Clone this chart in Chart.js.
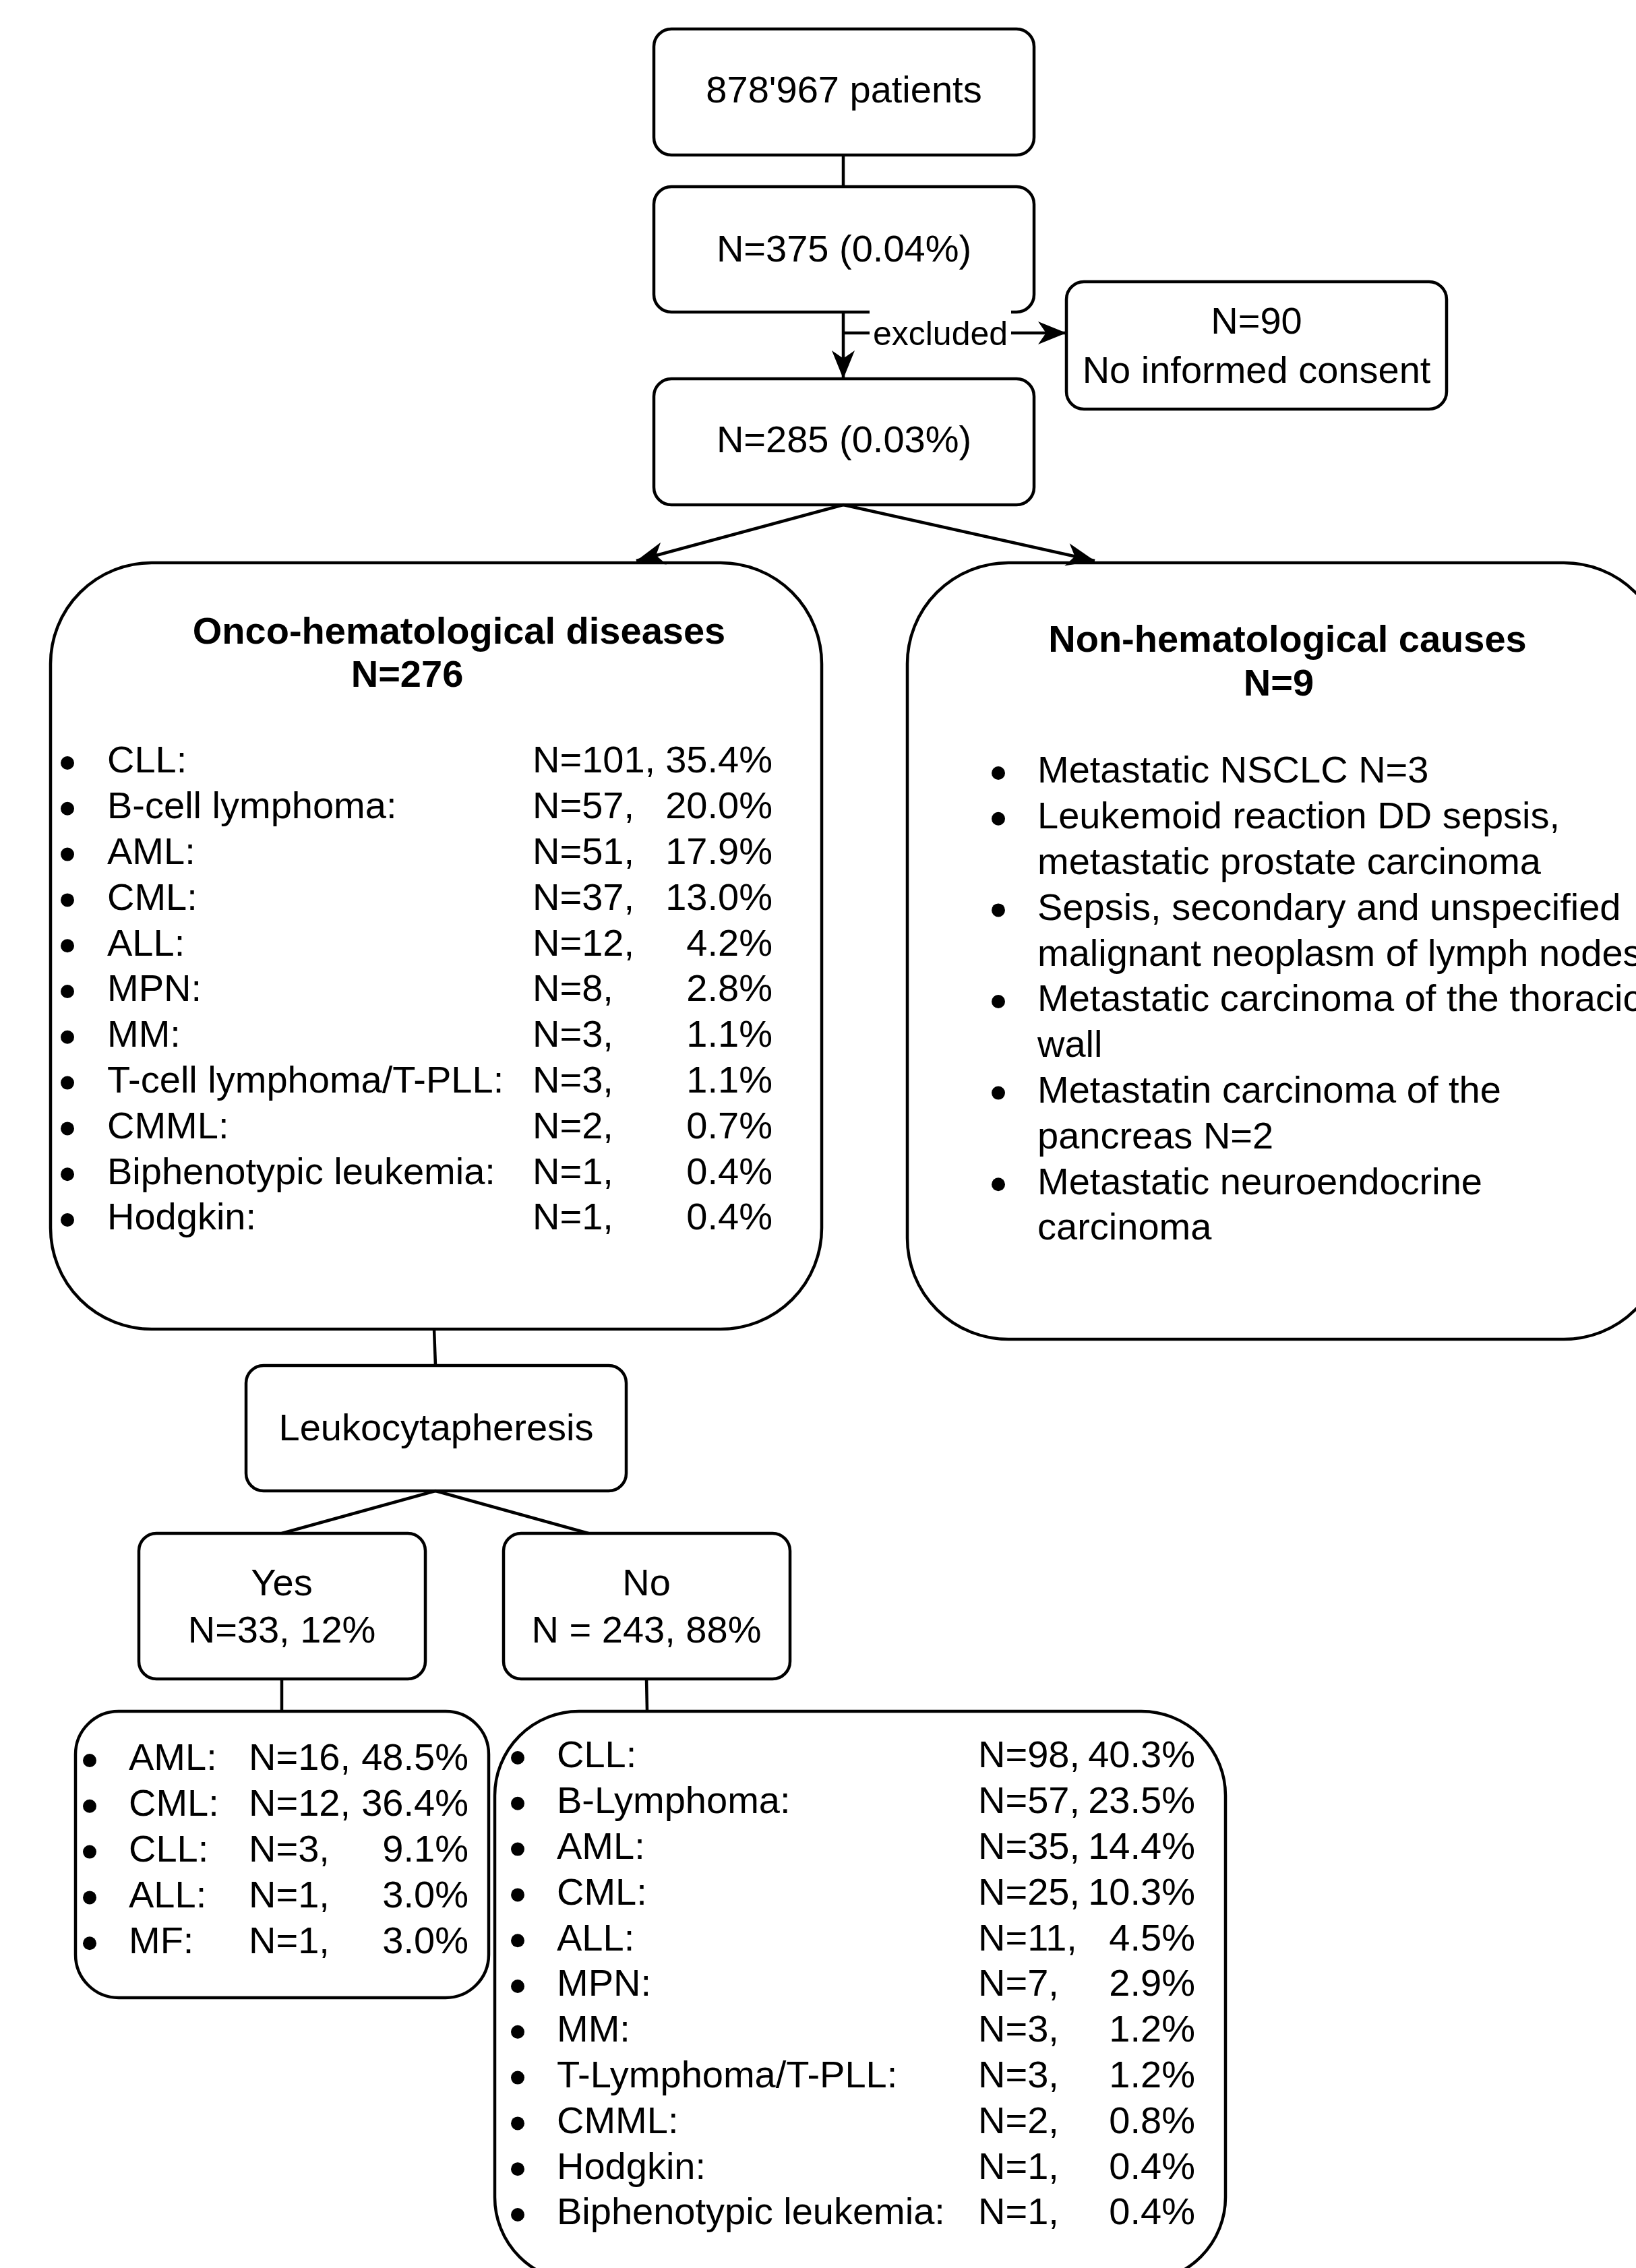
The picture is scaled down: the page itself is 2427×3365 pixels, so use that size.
<!DOCTYPE html>
<html>
<head>
<meta charset="utf-8">
<script src="https://cdn.jsdelivr.net/npm/chart.js@4.4.0/dist/chart.umd.min.js"></script>
<style>
html, body { margin: 0; padding: 0; background: #fff; }
canvas { display: block; }
</style>
</head>
<body>
<canvas id="flow" width="2427" height="3365"></canvas>
<script>
const stepLabels = ["878'967 patients", "N=375 (0.04%)", "N=285 (0.03%)"];
const excludedLabels = ["N=90", "No informed consent"];
const groupTitles = ["Onco-hematological diseases", "Non-hematological causes"];
const groupN = [276, 9];

const oncoDiseases = ["CLL:", "B-cell lymphoma:", "AML:", "CML:", "ALL:", "MPN:", "MM:",
	"T-cell lymphoma/T-PLL:", "CMML:", "Biphenotypic leukemia:", "Hodgkin:"];
const oncoN = [101, 57, 51, 37, 12, 8, 3, 3, 2, 1, 1];
const oncoPct = [35.4, 20.0, 17.9, 13.0, 4.2, 2.8, 1.1, 1.1, 0.7, 0.4, 0.4];

const nonHemItems = [
	["Metastatic NSCLC N=3"],
	["Leukemoid reaction DD sepsis,", "metastatic prostate carcinoma"],
	["Sepsis, secondary and unspecified", "malignant neoplasm of lymph nodes"],
	["Metastatic carcinoma of the thoracic", "wall"],
	["Metastatin carcinoma of the", "pancreas N=2"],
	["Metastatic neuroendocrine", "carcinoma"]
];

const apheresisTitle = "Leukocytapheresis";
const apheresisLabels = ["Yes", "No"];
const apheresisN = [33, 243];
const apheresisPct = [12, 88];

const yesDiseases = ["AML:", "CML:", "CLL:", "ALL:", "MF:"];
const yesN = [16, 12, 3, 1, 1];
const yesPct = [48.5, 36.4, 9.1, 3.0, 3.0];

const noDiseases = ["CLL:", "B-Lymphoma:", "AML:", "CML:", "ALL:", "MPN:", "MM:",
	"T-Lymphoma/T-PLL:", "CMML:", "Hodgkin:", "Biphenotypic leukemia:"];
const noN = [98, 57, 35, 25, 11, 7, 3, 3, 2, 1, 1];
const noPct = [40.3, 23.5, 14.4, 10.3, 4.5, 2.9, 1.2, 1.2, 0.8, 0.4, 0.4];

// ---- layout (in scale units = picture pixels) ----
const W = 2427, H = 3365;
const FONT = "'Liberation Sans', Arial, sans-serif";
const LINE = 67.8;
const BULLET_DROP = 5;
const TEXT_DROP = 4;
const boxes = {
	patients: [970, 43, 1534, 230, 26],
	screened: [970, 277, 1534, 463, 26],
	included: [970, 562, 1534, 749, 26],
	excluded: [1582, 418, 2146, 607, 26],
	onco: [75, 835, 1219, 1972, 150],
	nonHem: [1346, 835, 2470, 1987, 150],
	leuko: [365, 2026, 929, 2212, 26],
	yes: [206, 2275, 631, 2491, 26],
	no: [747, 2275, 1172, 2491, 26],
	yesList: [112, 2539, 725, 2964, 64],
	noList: [734, 2539, 1818, 3385, 125]
};
const lists = [
	{ names: oncoDiseases, n: oncoN, pct: oncoPct, bx: 100, tx: 159, nx: 790, px: 1146, y0: 1127 },
	{ names: yesDiseases, n: yesN, pct: yesPct, bx: 133, tx: 191, nx: 369, px: 695, y0: 2607 },
	{ names: noDiseases, n: noN, pct: noPct, bx: 768, tx: 826, nx: 1451, px: 1773, y0: 2603 }
];
const nonHemList = { bx: 1481, tx: 1539, y0: 1142 };

// connectors: [x1, y1, x2, y2, arrow]
const connectors = [
	[1251, 230, 1251, 277, false],
	[1251, 463, 1251, 562, true],
	[1251, 494, 1582, 494, true],
	[1251, 749, 944, 832, true],
	[1251, 749, 1624, 832, true],
	[644, 1972, 646, 2026, false],
	[646, 2212, 418, 2275, false],
	[646, 2212, 873, 2275, false],
	[418, 2491, 418, 2539, false],
	[959, 2491, 960, 2539, false]
];

// bullet points for every list row
const bulletPoints = [];
lists.forEach((l) => {
	l.names.forEach((name, i) => bulletPoints.push({ x: l.bx, y: l.y0 + i * LINE + BULLET_DROP }));
});
let nhRow = 0;
nonHemItems.forEach((item) => {
	bulletPoints.push({ x: nonHemList.bx, y: nonHemList.y0 + nhRow * LINE + BULLET_DROP });
	nhRow += item.length;
});

const lineSets = connectors.map((c) => ({
	type: "line",
	data: [{ x: c[0], y: c[1] }, { x: c[2], y: c[3] }],
	borderColor: "#000",
	borderWidth: 4.5,
	pointRadius: 0,
	showLine: true,
	fill: false
}));

function roundRect(ctx, x1, y1, x2, y2, r) {
	ctx.beginPath();
	ctx.moveTo(x1 + r, y1);
	ctx.lineTo(x2 - r, y1);
	ctx.arcTo(x2, y1, x2, y1 + r, r);
	ctx.lineTo(x2, y2 - r);
	ctx.arcTo(x2, y2, x2 - r, y2, r);
	ctx.lineTo(x1 + r, y2);
	ctx.arcTo(x1, y2, x1, y2 - r, r);
	ctx.lineTo(x1, y1 + r);
	ctx.arcTo(x1, y1, x1 + r, y1, r);
	ctx.closePath();
}

function arrowHead(ctx, x1, y1, x2, y2) {
	const a = Math.atan2(y2 - y1, x2 - x1);
	const len = 42, w = 17;
	const cos = Math.cos(a), sin = Math.sin(a);
	const bx = x2 - len * cos, by = y2 - len * sin;
	ctx.beginPath();
	ctx.moveTo(x2, y2);
	ctx.lineTo(bx - w * sin, by + w * cos);
	ctx.lineTo(x2 - len * 0.72 * cos, y2 - len * 0.72 * sin);
	ctx.lineTo(bx + w * sin, by - w * cos);
	ctx.closePath();
	ctx.fill();
}

const flowPlugin = {
	id: "flow",
	beforeDraw(chart) {
		const ctx = chart.ctx;
		ctx.save();
		ctx.fillStyle = "#fff";
		ctx.fillRect(0, 0, chart.width, chart.height);
		ctx.restore();
	},
	afterDatasetsDraw(chart) {
		const ctx = chart.ctx;
		const sx = chart.scales.x, sy = chart.scales.y;
		const px = (v) => sx.getPixelForValue(v);
		const py = (v) => sy.getPixelForValue(v);
		ctx.save();
		ctx.strokeStyle = "#000";
		ctx.fillStyle = "#000";
		ctx.lineWidth = 4.5;

		// arrow heads
		connectors.forEach((c) => {
			if (c[4]) arrowHead(ctx, px(c[0]), py(c[1]), px(c[2]), py(c[3]));
		});

		// boxes
		Object.values(boxes).forEach((b) => {
			roundRect(ctx, px(b[0]), py(b[1]), px(b[2]), py(b[3]), b[4]);
			ctx.stroke();
		});

		ctx.textBaseline = "middle";
		const text = (s, x, y, align, bold, size) => {
			ctx.font = (bold ? "bold " : "") + (size || 56) + "px " + FONT;
			ctx.textAlign = align || "center";
			ctx.fillText(s, px(x), py(y + TEXT_DROP));
		};

		// edge label "excluded" sits on a white patch
		ctx.fillStyle = "#fff";
		ctx.fillRect(px(1290), py(458), px(1500) - px(1290), py(530) - py(458));
		ctx.fillStyle = "#000";
		text("excluded", 1395, 494, "center", false, 50);

		// step boxes
		text(stepLabels[0], 1252, 133);
		text(stepLabels[1], 1252, 369);
		text(stepLabels[2], 1252, 652);
		text(excludedLabels[0], 1864, 476);
		text(excludedLabels[1], 1864, 549);

		// group headers
		text(groupTitles[0], 681, 936, "center", true);
		text("N=" + groupN[0], 604, 1000, "center", true);
		text(groupTitles[1], 1910, 948, "center", true);
		text("N=" + groupN[1], 1897, 1013, "center", true);

		// disease lists
		lists.forEach((l) => {
			l.names.forEach((name, i) => {
				const y = l.y0 + i * LINE;
				text(name, l.tx, y, "left");
				text("N=" + l.n[i] + ",", l.nx, y, "left");
				text(l.pct[i].toFixed(1) + "%", l.px, y, "right");
			});
		});

		let row = 0;
		nonHemItems.forEach((item) => {
			item.forEach((line) => {
				text(line, nonHemList.tx, nonHemList.y0 + row * LINE, "left");
				row++;
			});
		});

		// leukocytapheresis split
		text(apheresisTitle, 647, 2118);
		text(apheresisLabels[0], 418, 2348);
		text("N=" + apheresisN[0] + ", " + apheresisPct[0] + "%", 418, 2418);
		text(apheresisLabels[1], 959, 2348);
		text("N = " + apheresisN[1] + ", " + apheresisPct[1] + "%", 959, 2418);

		ctx.restore();
	}
};

new Chart(document.getElementById("flow"), {
	type: "scatter",
	data: {
		datasets: [
			...lineSets,
			{
				data: bulletPoints,
				pointStyle: "circle",
				pointRadius: 10,
				pointBackgroundColor: "#000",
				pointBorderColor: "#000",
				pointBorderWidth: 0
			}
		]
	},
	options: {
		responsive: false,
		devicePixelRatio: 1,
		animation: false,
		events: [],
		layout: { padding: 0, autoPadding: false },
		plugins: { legend: { display: false }, tooltip: { enabled: false } },
		scales: {
			x: { type: "linear", min: 0, max: W, display: false },
			y: { type: "linear", min: 0, max: H, reverse: true, display: false }
		}
	},
	plugins: [flowPlugin]
});
</script>
</body>
</html>
